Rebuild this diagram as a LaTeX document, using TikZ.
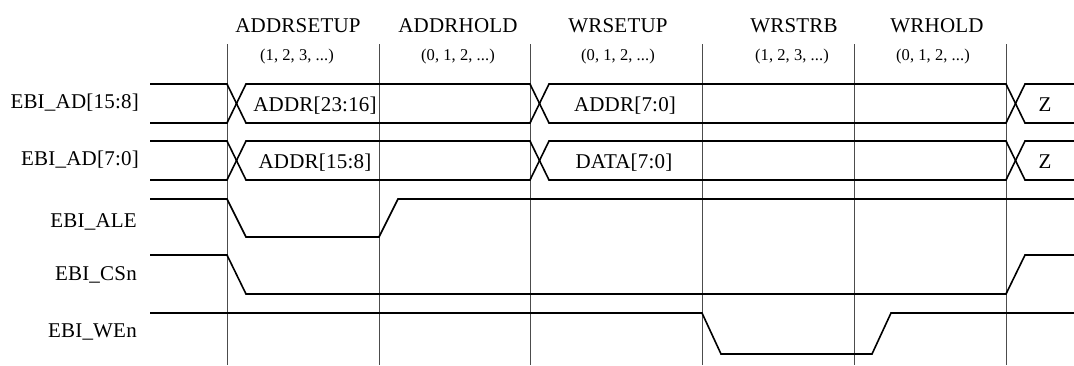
\documentclass[tikz,border=0pt]{standalone}
\usepackage{fontspec}
\setmainfont{Liberation Serif}
\newfontfamily\sigfont[LetterSpace=1]{Liberation Serif}
\newfontfamily\hdfont[LetterSpace=1]{Liberation Serif}
\newfontfamily\subfont[LetterSpace=0.5]{Liberation Serif}
\tikzset{
  sig/.style={line width=1.6pt, line join=miter},
  gridline/.style={line width=0.9pt, draw=black!70},
  siglab/.style={font=\sigfont\fontsize{21}{25}\selectfont, inner sep=0pt, anchor=base east},
  buslab/.style={font=\sigfont\fontsize{21}{25}\selectfont, inner sep=0pt, anchor=base},
  hdlab/.style={font=\hdfont\fontsize{21}{25}\selectfont, inner sep=0pt, anchor=base},
  sublab/.style={font=\subfont\fontsize{16.5}{19}\selectfont, inner sep=0pt, anchor=base}
}
\begin{document}
\begin{tikzpicture}[x=1pt,y=-1pt]
\useasboundingbox (0,0) rectangle (1074,365);
% grid lines
\foreach \gx/\gn in {227/g1,379/g2,530/g3,702/g4,854/g5,1006/g6}{
  \coordinate (\gn t) at (\gx,44);
  \coordinate (\gn b) at (\gx,365);
  \draw[gridline] (\gn t) -- (\gn b);
}
% headers
\node[hdlab] (h1) at (298,32) {ADDRSETUP};
\node[hdlab] (h2) at (458,32) {ADDRHOLD};
\node[hdlab] (h3) at (618,32) {WRSETUP};
\node[hdlab] (h4) at (794,32) {WRSTRB};
\node[hdlab] (h5) at (937,32) {WRHOLD};
\node[sublab] (s1) at (297,60) {(1, 2, 3, ...)};
\node[sublab] (s2) at (458,60) {(0, 1, 2, ...)};
\node[sublab] (s3) at (618,60) {(0, 1, 2, ...)};
\node[sublab] (s4) at (792,60) {(1, 2, 3, ...)};
\node[sublab] (s5) at (933,60) {(0, 1, 2, ...)};
% signal names
\node[siglab] (l1) at (139,108) {EBI\_AD[15:8]};
\node[siglab] (l2) at (139,165) {EBI\_AD[7:0]};
\node[siglab] (l3) at (137,227) {EBI\_ALE};
\node[siglab] (l4) at (137,280) {EBI\_CSn};
\node[siglab] (l5) at (137,337) {EBI\_WEn};
% bus EBI_AD[15:8]
\def\ta{84}\def\ba{123}
\draw[sig] (150,\ta) -- (227,\ta) -- (246,\ba) -- (530,\ba) -- (549,\ta) -- (1006,\ta) -- (1025,\ba) -- (1074,\ba);
\draw[sig] (150,\ba) -- (227,\ba) -- (246,\ta) -- (530,\ta) -- (549,\ba) -- (1006,\ba) -- (1025,\ta) -- (1074,\ta);
\node[buslab] (b1) at (315,111) {ADDR[23:16]};
\node[buslab] (b2) at (625,111) {ADDR[7:0]};
\node[buslab] (b3) at (1045,111) {Z};
% bus EBI_AD[7:0]
\def\tb{141}\def\bb{180}
\draw[sig] (150,\tb) -- (227,\tb) -- (246,\bb) -- (530,\bb) -- (549,\tb) -- (1006,\tb) -- (1025,\bb) -- (1074,\bb);
\draw[sig] (150,\bb) -- (227,\bb) -- (246,\tb) -- (530,\tb) -- (549,\bb) -- (1006,\bb) -- (1025,\tb) -- (1074,\tb);
\node[buslab] (b4) at (315,168) {ADDR[15:8]};
\node[buslab] (b5) at (624,168) {DATA[7:0]};
\node[buslab] (b6) at (1045,168) {Z};
% EBI_ALE
\draw[sig] (150,199) -- (227,199) -- (246,237) -- (379,237) -- (398,199) -- (1074,199);
% EBI_CSn
\draw[sig] (150,255) -- (227,255) -- (246,294) -- (1006,294) -- (1025,255) -- (1074,255);
% EBI_WEn
\draw[sig] (150,313) -- (702,313) -- (721,354) -- (872,354) -- (891,313) -- (1074,313);
\end{tikzpicture}
\end{document}
